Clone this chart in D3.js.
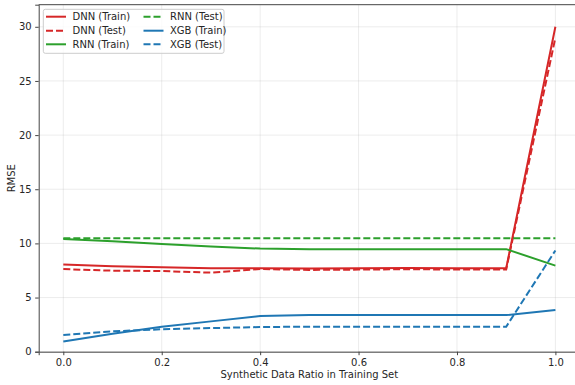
<!DOCTYPE html>
<html>
<head>
<meta charset="utf-8">
<script src="https://cdn.jsdelivr.net/npm/d3@7"></script>
<style>
  body { margin: 0; background: #fff; }
  svg { display: block; font-family: "DejaVu Sans", sans-serif; }
</style>
</head>
<body>
<div id="chart"></div>
<script>
const ratios = [0, 0.1, 0.2, 0.3, 0.4, 0.5, 0.6, 0.7, 0.8, 0.9, 1.0];
const dnnTrain = [8.05, 7.9, 7.8, 7.7, 7.7, 7.68, 7.7, 7.72, 7.7, 7.7, 30.0];
const dnnTest = [7.63, 7.48, 7.45, 7.3, 7.63, 7.55, 7.58, 7.62, 7.58, 7.6, 29.0];
const rnnTrain = [10.4, 10.2, 9.95, 9.72, 9.52, 9.47, 9.47, 9.47, 9.47, 9.47, 7.95];
const rnnTest = [10.47, 10.47, 10.47, 10.47, 10.47, 10.47, 10.47, 10.47, 10.47, 10.47, 10.47];
const xgbTrain = [0.95, 1.65, 2.3, 2.8, 3.3, 3.38, 3.38, 3.38, 3.38, 3.38, 3.85];
const xgbTest = [1.55, 1.88, 2.07, 2.18, 2.28, 2.31, 2.31, 2.31, 2.31, 2.31, 9.35];
const xTicks = [0, 0.2, 0.4, 0.6, 0.8, 1.0];
const yTicks = [0, 5, 10, 15, 20, 25, 30];

const series = [
  { name: "DNN (Train)", values: dnnTrain, color: "#d62728", dash: null },
  { name: "DNN (Test)", values: dnnTest, color: "#d62728", dash: "7,3" },
  { name: "RNN (Train)", values: rnnTrain, color: "#2ca02c", dash: null },
  { name: "RNN (Test)", values: rnnTest, color: "#2ca02c", dash: "7,3" },
  { name: "XGB (Train)", values: xgbTrain, color: "#1f77b4", dash: null },
  { name: "XGB (Test)", values: xgbTest, color: "#1f77b4", dash: "7,3" }
];

const width = 575, height = 385;
const m = { left: 38.7, right: 580, top: 4.7, bottom: 351.7 };

const svg = d3.select("#chart").append("svg")
  .attr("width", width)
  .attr("height", height);

const x = d3.scaleLinear().domain([-0.05, 1.05]).range([m.left, m.right]);
const y = d3.scaleLinear().domain([0, 32.04]).range([m.bottom, m.top]);

// grid
svg.append("g").selectAll("line")
  .data(xTicks).enter().append("line")
  .attr("x1", d => x(d)).attr("x2", d => x(d))
  .attr("y1", m.top).attr("y2", m.bottom)
  .attr("stroke", "#b0b0b0").attr("stroke-opacity", 0.3).attr("stroke-width", 0.8);
svg.append("g").selectAll("line")
  .data(yTicks).enter().append("line")
  .attr("x1", m.left).attr("x2", m.right)
  .attr("y1", d => y(d)).attr("y2", d => y(d))
  .attr("stroke", "#b0b0b0").attr("stroke-opacity", 0.3).attr("stroke-width", 0.8);

// lines
const line = d3.line()
  .x((d, i) => x(ratios[i]))
  .y(d => y(d));

svg.append("g").selectAll("path")
  .data(series).enter().append("path")
  .attr("d", d => line(d.values))
  .attr("fill", "none")
  .attr("stroke", d => d.color)
  .attr("stroke-width", 2)
  .attr("stroke-dasharray", d => d.dash);

// axes
const xAxis = svg.append("g")
  .attr("transform", `translate(0,${m.bottom})`)
  .call(d3.axisBottom(x).tickValues(xTicks).tickFormat(d3.format(".1f")).tickSizeOuter(0).tickSize(3.5).tickPadding(3.5));
const yAxis = svg.append("g")
  .attr("transform", `translate(${m.left},0)`)
  .call(d3.axisLeft(y).tickValues(yTicks).tickSizeOuter(0).tickSize(3.5).tickPadding(3.5));
[xAxis, yAxis].forEach(a => {
  a.selectAll("text").attr("font-size", 10).attr("fill", "#262626").attr("font-family", "DejaVu Sans");
  a.selectAll("line").attr("stroke", "#444");
  a.select(".domain").attr("stroke", "#444").attr("stroke-width", 1);
});
svg.append("line")
  .attr("x1", m.left).attr("x2", m.right).attr("y1", m.top).attr("y2", m.top)
  .attr("stroke", "#444").attr("stroke-width", 1);

// labels
svg.append("text")
  .attr("x", (m.left + m.right) / 2).attr("y", 378)
  .attr("text-anchor", "middle").attr("font-size", 10).attr("fill", "#262626")
  .text("Synthetic Data Ratio in Training Set");
svg.append("text")
  .attr("transform", `translate(15,${(m.top + m.bottom) / 2}) rotate(-90)`)
  .attr("text-anchor", "middle").attr("font-size", 10).attr("fill", "#262626")
  .text("RMSE");

// legend
const legend = svg.append("g");
legend.append("rect")
  .attr("x", 43.3).attr("y", 9.3).attr("width", 180.7).attr("height", 44)
  .attr("rx", 2).attr("fill", "#fff").attr("fill-opacity", 0.8)
  .attr("stroke", "#ccc").attr("stroke-width", 1);
const items = legend.selectAll("g.item")
  .data(series).enter().append("g")
  .attr("class", "item")
  .attr("transform", (d, i) => `translate(${i < 3 ? 46 : 143.5},${[16.7, 30.7, 44.3][i % 3]})`);
items.append("line")
  .attr("x1", 0).attr("x2", 20)
  .attr("stroke", d => d.color).attr("stroke-width", 2)
  .attr("stroke-dasharray", d => d.dash);
items.append("text")
  .attr("x", 26.5).attr("dy", "0.35em")
  .attr("font-size", 10).attr("fill", "#262626")
  .text(d => d.name);
</script>
</body>
</html>
